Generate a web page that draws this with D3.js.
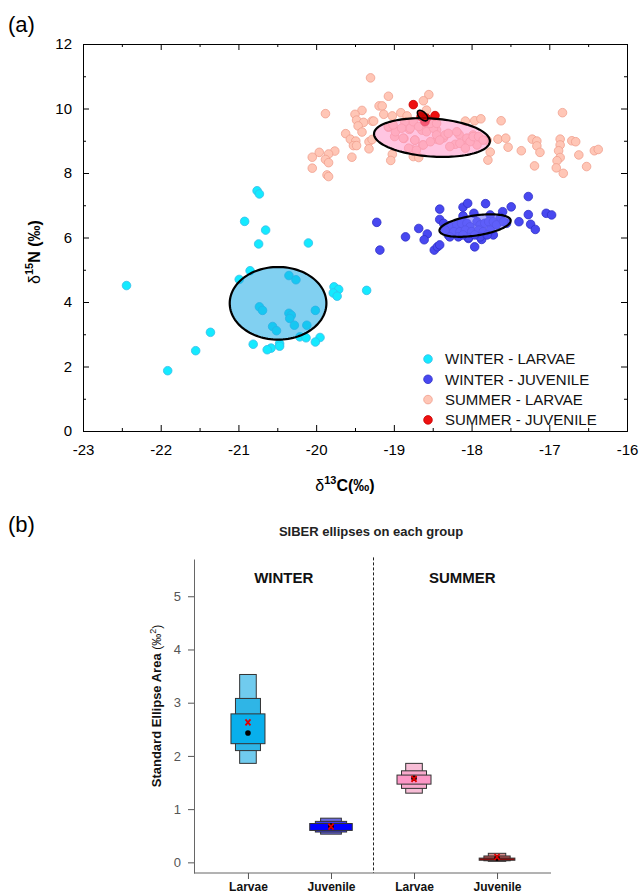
<!DOCTYPE html>
<html>
<head>
<meta charset="utf-8">
<script src="https://cdn.jsdelivr.net/npm/d3@7"></script>
<style>
  body { margin: 0; background: #fff; }
  svg { font-family: "Liberation Sans", Arial, sans-serif; }
</style>
</head>
<body>
<svg id="chart" width="642" height="896"></svg>
<script>
// ---- panel (a) data : d13C / d15N ----
const winterLarvaeX = [-20.76,-20.73,-20.92,-20.65,-20.74,-20.10,-22.44,-20.85,-20.99,-20.35,-20.26,-19.77,-19.71,-19.78,-19.73,-19.35,-20.73,-20.69,-20.35,-20.32,-20.34,-20.01,-20.28,-20.12,-20.56,-20.51,-21.36,-20.21,-20.13,-19.95,-20.01,-20.81,-20.47,-20.47,-20.58,-20.63,-21.55,-21.91];
const winterLarvaeY = [7.45,7.35,6.50,6.23,5.80,5.83,4.51,4.97,4.70,4.82,4.69,4.47,4.39,4.28,4.18,4.36,3.85,3.74,3.65,3.59,3.49,3.74,3.28,3.28,3.24,3.11,3.06,2.92,2.89,2.90,2.76,2.69,2.71,2.63,2.57,2.52,2.49,1.87];

const winterJuvX = [-19.22,-19.18,-18.85,-18.68,-18.57,-18.61,-18.48,-18.44,-18.41,-18.41,-18.41,-18.11,-18.05,-17.82,-17.49,-17.27,-17.27,-17.39,-17.24,-17.18,-17.04,-16.97,-17.96,-17.87,-17.72,-17.60,-18.04,-18.30,-18.36,-18.11,-17.97,-17.76,-17.63,-17.55,
  -18.28,-18.19,-18.13,-18.06,-18.02,-17.93,-17.89,-17.83,-17.78,-17.72,-17.68,-18.23,-18.15,-18.08,-18.00,-17.91,-17.85,-17.76,-18.28,-18.17,-18.04,-17.89,-17.80,-18.11,-17.96,-17.59,-18.34];
const winterJuvY = [6.47,5.61,6.02,6.28,6.11,5.93,5.61,5.71,5.77,6.88,6.56,6.94,7.06,7.05,6.95,7.27,6.71,6.49,6.41,6.25,6.75,6.70,5.71,5.94,6.08,6.80,5.97,6.08,6.44,6.67,6.75,6.70,6.62,6.44,
  6.36,6.39,6.44,6.44,6.33,6.49,6.39,6.44,6.49,6.49,6.39,6.18,6.18,6.23,6.18,6.23,6.18,6.23,6.02,6.02,6.00,6.02,6.08,6.08,6.08,6.49,6.23];

const summerLarvaeX = [-19.30,-19.07,-18.55,-18.62,-19.19,-19.15,-18.91,-19.41,-19.50,-19.48,-19.39,-19.28,-19.26,-19.13,-19.02,-18.83,-18.58,-19.46,-19.41,-19.62,-19.56,-19.49,-19.52,-19.48,-19.32,-19.32,-19.28,-19.76,-19.54,-19.02,-19.04,-18.75,-18.68,-18.77,-18.58,-18.45,-18.80,-19.07,-18.99,-18.87,-18.73,-18.63,-18.44,-18.36,-18.21,-18.16,-18.06,-17.98,-17.93,-18.08,-17.96,-17.88,-17.62,-17.80,-17.66,-17.56,-17.53,-17.76,-17.79,-17.36,-17.22,-17.16,-17.16,-17.12,-17.19,-16.83,-16.86,-16.86,-16.88,-16.86,-16.90,-16.91,-16.82,-16.71,-16.66,-16.62,-16.52,-16.42,-16.37,
  -19.88,-19.84,-19.88,-19.84,-19.96,-20.05,-20.05,-19.86,-19.84,
  -19.07,-18.98,-18.88,-18.79,-18.73,-18.64,-18.58,-18.49,-18.45,-18.34,-18.30,-18.19,-18.06,-18.02,-17.98,-17.91,-17.85,-18.81,-18.71,-18.62,-18.53,-18.41,-18.28,-18.15,-18.08,-18.75,-18.68,-18.53,-18.45,-18.86,-19.01,-18.90];
const summerLarvaeY = [10.95,10.38,10.43,10.24,10.08,10.08,9.87,9.94,9.82,9.64,9.57,9.61,9.61,9.82,9.77,9.77,9.95,9.46,9.27,9.22,9.05,8.99,8.85,8.85,8.97,8.75,9.04,8.68,8.49,8.58,8.39,8.51,8.48,8.73,9.46,9.33,9.35,9.42,9.13,9.07,9.02,8.87,9.04,9.09,8.89,9.19,9.02,9.18,8.87,9.61,9.62,9.68,9.62,9.02,9.05,9.08,8.80,8.65,8.40,8.69,9.05,8.99,8.84,8.64,8.22,9.87,9.05,8.87,8.69,8.48,8.38,8.16,7.99,9.00,8.97,8.56,8.20,8.69,8.73,
  9.84,8.59,8.42,8.32,8.64,8.49,8.15,7.94,7.89,
  9.44,9.28,9.08,9.39,9.02,9.33,9.28,9.39,9.18,9.18,9.23,9.28,9.08,8.97,9.13,9.13,9.02,8.77,8.71,8.87,8.97,9.02,8.82,8.92,8.77,9.59,9.44,9.54,9.54,9.59,9.49,9.39];

const summerJuvX = [-18.75,-18.47,-18.60,-18.65,-18.58];
const summerJuvY = [10.12,9.78,9.59,9.75,9.70];

// standard ellipses: centre and two conjugate semi-axis vectors (data units)
const ellipseCentre = [[-20.49,3.96],[-17.955,6.37],[-18.51,9.10],[-18.63,9.78]];
const ellipseAxis1  = [[0.622,0],[0.458,0.165],[0.745,-0.126],[0.059,-0.143]];
const ellipseAxis2  = [[0,1.126],[-0.019,0.307],[0.017,0.588],[0.032,0.078]];

const legendLabels = ["WINTER - LARVAE","WINTER - JUVENILE","SUMMER - LARVAE","SUMMER - JUVENILE"];

// ---- panel (b) data : SEA credible intervals ----
const groups = ["WL","WJ","SL","SJ"];
const groupLabels = ["Larvae","Juvenile","Larvae","Juvenile"];
const seasons = ["WINTER","SUMMER"];
const cred95 = [[1.86,3.53],[0.53,0.83],[1.30,1.86],[0.02,0.17]];
const cred75 = [[2.10,3.08],[0.57,0.77],[1.39,1.72],[0.03,0.12]];
const cred50 = [[2.23,2.79],[0.60,0.73],[1.47,1.64],[0.04,0.08]];
const seaMode = [2.63,0.67,1.57,0.10];
const seaC = [2.43,0.68,1.58,0.08];

// ---- styles ----
const ptFill   = ["#14eaff","#4848f0","#ffc6b6","#ee1010"];
const ptStroke = ["#38bde8","#3030c8","#f0a08e","#c80000"];
const ellFill  = ["rgba(25,170,230,0.55)","rgba(110,110,255,0.6)","rgba(255,150,200,0.55)","rgba(190,0,0,0.8)"];
const boxCols = [
  ["#70cbee","#2fb5e6","#08afec"],
  ["#6a6ae0","#3a3af0","#0000ff"],
  ["#f7bdd6","#f8a9cc","#fc97c6"],
  ["#d98c8c","#c05050","#a00000"]
];
const boxHalf = [8.3, 12.5, 17];
const boxScale = [1, 1.25, 1, 1.05];

const svg = d3.select("#chart");
svg.append("rect").attr("width",642).attr("height",896).attr("fill","#fff");

// =============== panel (a) ===============
const x = d3.scaleLinear().domain([-23,-16]).range([83,627]);
const y = d3.scaleLinear().domain([0,12]).range([431,44]);

const a = svg.append("g");

function styleAxis(g){
  g.attr("font-family",null).attr("font-size",null);
  g.selectAll("path.domain").attr("stroke","#000").attr("stroke-width",1);
  g.selectAll("line").attr("stroke","#000");
  g.selectAll("text").attr("font-size",15).attr("fill","#000");
}
const fmt = d => String(d);
const xMajor = d3.range(-23,-15.9,1), xMinor = d3.range(-22.5,-16,1);
const yMajor = d3.range(0,12.1,2), yMinor = d3.range(1,12,2);

a.append("g").attr("transform","translate(0,431)")
  .call(d3.axisBottom(x).tickValues(xMajor).tickSize(-6).tickSizeOuter(0).tickPadding(13).tickFormat(fmt)).call(styleAxis);
a.append("g").attr("transform","translate(0,431)")
  .call(d3.axisBottom(x).tickValues(xMinor).tickSize(-3).tickSizeOuter(0).tickFormat("")).call(styleAxis);
a.append("g").attr("transform","translate(0,44)")
  .call(d3.axisTop(x).tickValues(xMajor).tickSize(-6).tickSizeOuter(0).tickFormat("")).call(styleAxis);
a.append("g").attr("transform","translate(0,44)")
  .call(d3.axisTop(x).tickValues(xMinor).tickSize(-3).tickSizeOuter(0).tickFormat("")).call(styleAxis);
a.append("g").attr("transform","translate(83,0)")
  .call(d3.axisLeft(y).tickValues(yMajor).tickSize(-6).tickSizeOuter(0).tickPadding(11).tickFormat(fmt)).call(styleAxis);
a.append("g").attr("transform","translate(83,0)")
  .call(d3.axisLeft(y).tickValues(yMinor).tickSize(-3).tickSizeOuter(0).tickFormat("")).call(styleAxis);
a.append("g").attr("transform","translate(627,0)")
  .call(d3.axisRight(y).tickValues(yMajor).tickSize(-6).tickSizeOuter(0).tickFormat("")).call(styleAxis);
a.append("g").attr("transform","translate(627,0)")
  .call(d3.axisRight(y).tickValues(yMinor).tickSize(-3).tickSizeOuter(0).tickFormat("")).call(styleAxis);

const series = [
  d3.zip(winterLarvaeX, winterLarvaeY),
  d3.zip(winterJuvX, winterJuvY),
  d3.zip(summerLarvaeX, summerLarvaeY),
  d3.zip(summerJuvX, summerJuvY)
];

// points (summer larvae first so others sit on top)
[2,0,1,3].forEach(i => {
  a.append("g").selectAll("circle").data(series[i]).join("circle")
    .attr("cx", d => x(d[0])).attr("cy", d => y(d[1])).attr("r", 4.3)
    .attr("fill", ptFill[i]).attr("stroke", ptStroke[i]).attr("stroke-width", 0.8);
});

// ellipses
const ellLine = d3.line().x(d => x(d[0])).y(d => y(d[1])).curve(d3.curveLinearClosed);
const angles = d3.range(0, 360, 3).map(d => d * Math.PI / 180);
ellipseCentre.forEach((c, i) => {
  const u = ellipseAxis1[i], v = ellipseAxis2[i];
  const pts = angles.map(t => [c[0] + Math.cos(t)*u[0] + Math.sin(t)*v[0], c[1] + Math.cos(t)*u[1] + Math.sin(t)*v[1]]);
  a.append("path").attr("d", ellLine(pts))
    .attr("fill", ellFill[i]).attr("stroke", "#000").attr("stroke-width", i === 3 ? 1.6 : 2.2);
});

// legend
const leg = a.append("g").attr("transform","translate(428,359)");
legendLabels.forEach((lab, i) => {
  const r = leg.append("g").attr("transform", `translate(0,${i*20.3})`);
  r.append("circle").attr("r", 4.3).attr("fill", ptFill[i]).attr("stroke", ptStroke[i]).attr("stroke-width", 0.8);
  r.append("text").attr("x", 17).attr("dy","0.36em").attr("font-size",15).attr("fill","#111").text(lab);
});

// labels
svg.append("text").attr("x",8).attr("y",32).attr("font-size",22).text("(a)");
const xl = svg.append("text").attr("x",345).attr("y",491).attr("text-anchor","middle").attr("font-size",16).attr("font-weight","bold");
xl.append("tspan").attr("font-weight","normal").text("δ");
xl.append("tspan").attr("font-size",11).attr("dy",-7).text("13");
xl.append("tspan").attr("dy",7).text("C(‰)");
const yl = svg.append("text").attr("transform","translate(40,252) rotate(-90)").attr("text-anchor","middle").attr("font-size",16).attr("font-weight","bold");
yl.append("tspan").attr("font-weight","normal").text("δ");
yl.append("tspan").attr("font-size",11).attr("dy",-7).text("15");
yl.append("tspan").attr("dy",7).text("N (‰)");

// =============== panel (b) ===============
svg.append("text").attr("x",8).attr("y",532).attr("font-size",22).text("(b)");
svg.append("text").attr("x",371).attr("y",536).attr("text-anchor","middle").attr("font-size",13).attr("font-weight","bold").attr("fill","#222")
  .text("SIBER ellipses on each group");

const x2 = d3.scalePoint().domain(groups).range([194,551]).padding(0.65);
const y2 = d3.scaleLinear().domain([-0.2,5.7]).range([873,559]);
const b = svg.append("g");

const gy = b.append("g").attr("transform","translate(194,0)")
  .call(d3.axisLeft(y2).tickValues([0,1,2,3,4,5]).tickSize(6).tickSizeOuter(0).tickPadding(7).tickFormat(fmt));
gy.attr("font-family",null);
gy.selectAll("text").attr("font-size",13).attr("fill","#555");
gy.selectAll("line").attr("stroke","#555");
gy.select("path.domain").attr("stroke","#666");

const gx = b.append("g").attr("transform","translate(0,873)")
  .call(d3.axisBottom(x2).tickSize(6).tickSizeOuter(0).tickPadding(3).tickFormat((d,i) => groupLabels[i]));
gx.attr("font-family",null);
gx.selectAll("text").attr("font-size",12).attr("font-weight","bold").attr("fill","#111");
gx.selectAll("line").attr("stroke","#555");
gx.select("path.domain").attr("stroke","#666").attr("d","M194,0H551");

const ylab = b.append("text").attr("transform","translate(161,706) rotate(-90)").attr("text-anchor","middle")
  .attr("font-size",13).attr("font-weight","bold").attr("fill","#111");
ylab.append("tspan").text("Standard Ellipse Area ");
ylab.append("tspan").attr("font-weight","normal").attr("font-size",12).text("(‰");
ylab.append("tspan").attr("font-weight","normal").attr("font-size",9).attr("dy",-5).text("2");
ylab.append("tspan").attr("font-weight","normal").attr("font-size",12).attr("dy",5).text(")");

// season divider and labels (centred in each half of the plot)
const midX = (x2("WJ") + x2("SL")) / 2 + 1;
b.append("line").attr("x1", midX).attr("x2", midX).attr("y1", y2(5.73)).attr("y2", 873)
  .attr("stroke","#222").attr("stroke-dasharray","3,2").attr("stroke-width",1);
const halves = [[194, midX], [midX, 551]];
seasons.forEach((s, i) => {
  b.append("text").attr("x", (halves[i][0] + halves[i][1]) / 2).attr("y", 583).attr("text-anchor","middle")
    .attr("font-size",15).attr("font-weight","bold").attr("fill","#111").text(s);
});

// credible-interval boxes
groups.forEach((g, i) => {
  const cx = x2(g);
  [cred95, cred75, cred50].forEach((ci, k) => {
    const hw = boxHalf[k] * boxScale[i];
    b.append("rect").attr("x", cx - hw).attr("width", 2*hw)
      .attr("y", y2(ci[i][1])).attr("height", y2(ci[i][0]) - y2(ci[i][1]))
      .attr("fill", boxCols[i][k]).attr("stroke","#333").attr("stroke-width",1);
  });
  b.append("circle").attr("cx", cx).attr("cy", y2(seaC[i])).attr("r", 2.8).attr("fill","#000");
  const my = y2(seaMode[i]);
  b.append("path").attr("d", `M${cx-2.5},${my-3}L${cx+2.5},${my+3}M${cx+2.5},${my-3}L${cx-2.5},${my+3}`)
    .attr("stroke","#e00000").attr("stroke-width",1.8);
});
</script>
</body>
</html>
